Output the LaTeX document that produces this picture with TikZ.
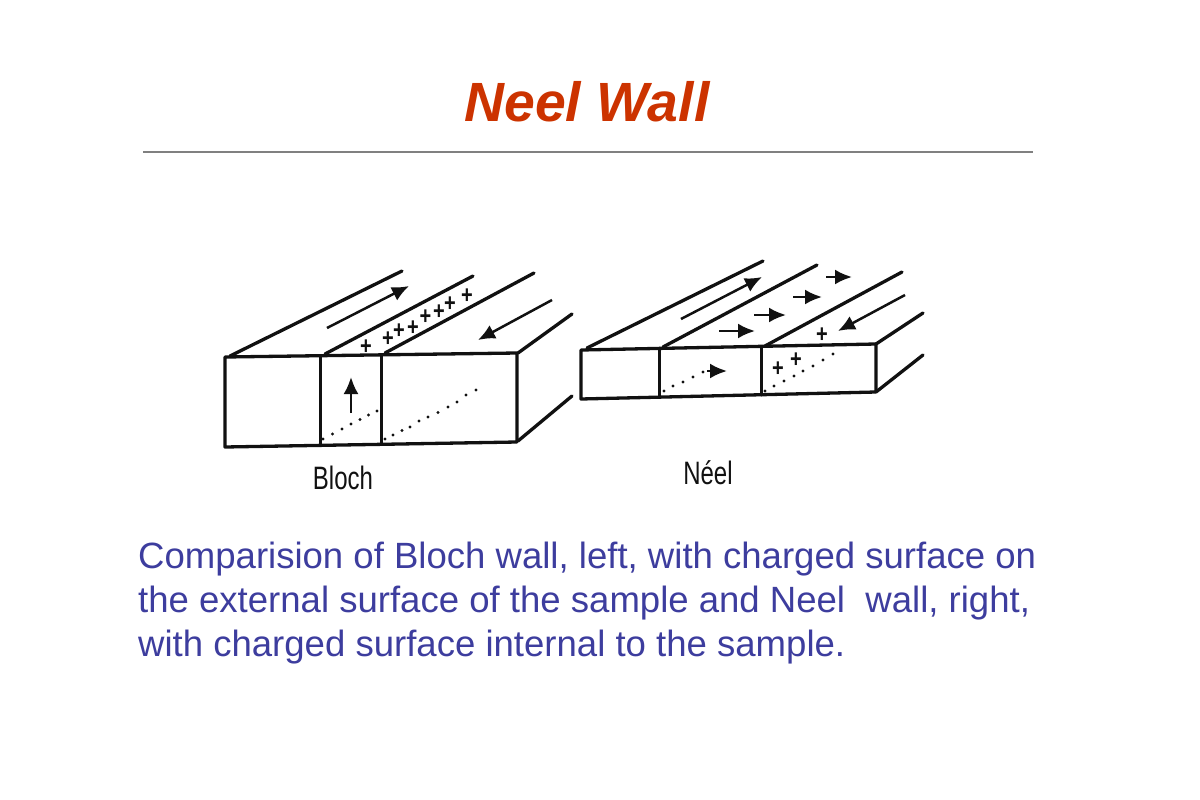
\documentclass[tikz,border=0pt]{standalone}
\usepackage{fontspec}
\setmainfont{Liberation Sans}
\usetikzlibrary{arrows.meta}
\definecolor{titlered}{HTML}{CC3300}
\definecolor{bodyblue}{HTML}{3D3D9E}
\definecolor{ink}{HTML}{111111}
\tikzset{
  edge/.style={draw=ink,line width=3.3pt,line cap=round,line join=round},
  thinedge/.style={draw=ink,line width=3pt,line cap=round},
  arr/.style={draw=ink,line width=2.5pt,-{Latex[length=17pt,width=15pt]}},
  dot/.style={circle,fill=ink,inner sep=0pt,minimum size=3.4pt},
  plus/.style={inner sep=0pt,text=ink,font=\fontsize{25}{25}\selectfont\bfseries,xscale=.8},
  lab/.style={inner sep=0pt,text=ink,font=\fontsize{30}{30}\selectfont,xscale=.8,yscale=1.08},
  body/.style={anchor=west,inner sep=0pt,text=bodyblue,font=\fontsize{36.55}{36.55}\selectfont}
}
\begin{document}
\begin{tikzpicture}[x=1pt,y=-1pt]
\useasboundingbox (0,0) rectangle (1200,800);
\node[inner sep=0pt,text=titlered,font=\fontsize{55.3}{55.3}\selectfont\bfseries\itshape] (title) at (587,102) {Neel Wall};
\coordinate (ruleL) at (143,152); \coordinate (ruleR) at (1033,152);
\draw[draw=black!50,line width=1.2pt] (ruleL) -- (ruleR);

% Bloch
\draw[edge] (225,357) -- (517,353) -- (517,442) -- (225,447) -- cycle;
\draw[thinedge] (320,356) -- (320,444);
\draw[thinedge] (381,355) -- (381,443);
\draw[edge] (230,356) -- (402,271);
\draw[edge] (325,354) -- (473,276);
\draw[edge] (385,353) -- (534,273);
\draw[edge] (518,353) -- (572,314);
\draw[edge] (518,441) -- (572,396);
\draw[arr] (327,328) -- (409,286);
\draw[arr] (552,300) -- (478,340);
\draw[arr] (351,413) -- (351,377);
\foreach \x/\y in {323/439,332.5/434,342/429,351/424,360/419.5,368.5/415,377/411,
  385/439,393/435,402/430.5,410/427,419/421,428/417,438/412.5,448/407,457/402,466/395,476/390}
  \node[dot] at (\x,\y) {};
\foreach \x/\y in {366/347,388/339,399/331,413/328,425.5/317,439/312,450/304,467/296}
  \node[plus] at (\x,\y) {+};
\node[lab] (bloch) at (343,478) {Bloch};

% Neel
\draw[edge] (581,350) -- (876,344) -- (876,392) -- (581,399) -- cycle;
\draw[thinedge] (659,348) -- (659,397);
\draw[thinedge] (761,347) -- (761,395);
\draw[edge] (587,348) -- (763,261);
\draw[edge] (663,347) -- (817,265);
\draw[edge] (765,346) -- (902,272);
\draw[edge] (876,344) -- (923,313);
\draw[edge] (876,392) -- (923,355);
\draw[arr] (681,319) -- (762,277);
\draw[arr] (905,295) -- (838,331);
\draw[arr] (719,331) -- (755,331);
\draw[arr] (754,315) -- (786,315);
\draw[arr] (793,297) -- (822,297);
\draw[arr] (826,277) -- (852,277);
\draw[arr] (707,371) -- (727,371);
\foreach \x/\y in {664/391,673/386,683/382,693/377,703/372,
  765/391,774/386,784/381,794/376,803/371,813/366,823/360,833/354}
  \node[dot] at (\x,\y) {};
\foreach \x/\y in {822/335,796/360,778/369}
  \node[plus] at (\x,\y) {+};
\node[lab] (neel) at (708,473) {Néel};

% Caption
\node[body] (l1) at (138,559) {Comparision of Bloch wall, left, with charged surface on};
\node[body] (l2) at (138,603) {the external surface of the sample and Neel\ \ wall, right,};
\node[body] (l3) at (138,647) {with charged surface internal to the sample.};
\end{tikzpicture}
\end{document}
